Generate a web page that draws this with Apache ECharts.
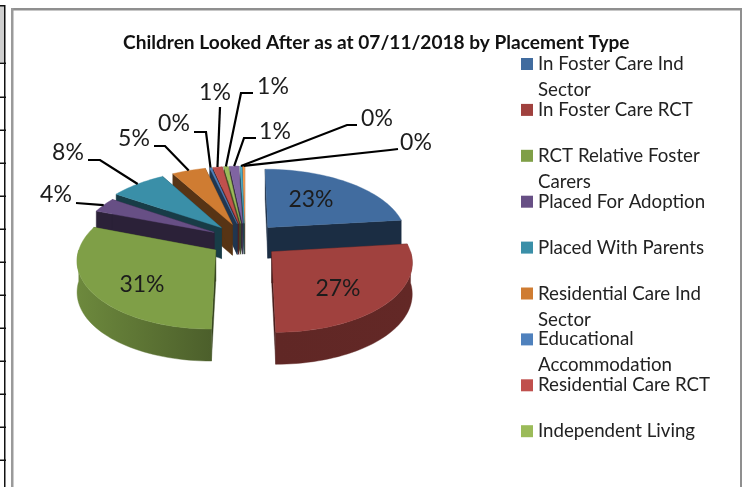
<!DOCTYPE html>
<html>
<head>
<meta charset="utf-8">
<style>html,body{margin:0;padding:0;background:#fff}#c{width:743px;height:487px}</style>
<script src="https://cdn.jsdelivr.net/npm/echarts@6/dist/echarts.min.js"></script>
</head>
<body>
<div id="c"></div>
<script>
const titleText = 'Children Looked After as at 07/11/2018 by Placement Type';
const categories = ['In Foster Care Ind Sector','In Foster Care RCT','RCT Relative Foster Carers','Placed For Adoption','Placed With Parents','Residential Care Ind Sector','Educational Accommodation','Residential Care RCT','Independent Living','Semi Independent Living','Secure Accommodation','Other Placements'];
const values = [23.2,26.8,30.6,3.6,7.5,4.5,0.25,1.25,0.55,1.2,0.25,0.3];
const colors = ['#416C9F','#A0413E','#7F9F47','#674F85','#3A8FA8','#CF7C32','#4F81BD','#C0504D','#9BBB59','#8064A2','#4BACC6','#F79646'];
const legendNames = categories.slice(0,9);
const legendWraps = {'In Foster Care Ind Sector':'In Foster Care Ind\nSector','RCT Relative Foster Carers':'RCT Relative Foster\nCarers','Residential Care Ind Sector':'Residential Care Ind\nSector','Educational Accommodation':'Educational\nAccommodation'};
const paintOrder = [11,10,9,8,7,6,5,4,3,2,0,1];

// layout of the percentage labels: centre, optional leader start and knee
const labelSpots = [[311,200],[338,289],[142,285],[56,195],[68,153],[134,139],[174,124],[215,93],[273,87],[275,132],[377,119],[416,143]];
const leaderPaths = [null,null,null,[[76,203]],[[88,160],[100,160]],[[154,146],[165,146]],[[194,132],[206,132]],[[220,107]],[[253,93],[241,93]],[[256,138],[244,138]],[[357,125],[347,125]],[[398,149],[390,150]]];
const radiusBy = [1,0.97,0.96,0.96,1,1,1,1,1,1,1,1];

// projection of the exploded 3D pie
const P = {cx:245, cy:240, A:69, B:140, k:0.132, explode:0.25, depth:31};
const total = values.reduce((a,b)=>a+b,0);
const DEG = Math.PI/180;
function project(X,Y,low){
  const d = 1+P.k*Y;
  return [P.cx+P.B*X/d, P.cy-P.A*Y/d+(low?P.depth/Math.pow(d,0.2):0)];
}
let running = 0;
const slices = values.map((v,i)=>{
  const a0 = running/total*360; running += v; const a1 = running/total*360;
  const m = (a0+a1)/2*DEG;
  return {a0,a1,ax:P.explode*Math.sin(m),ay:P.explode*Math.cos(m),mid:(a0+a1)/2,r:radiusBy[i]};
});
function rim(s,deg,low){return project(s.ax+s.r*Math.sin(deg*DEG),s.ay+s.r*Math.cos(deg*DEG),low);}
function apex(s,low){return project(s.ax,s.ay,low);}
function arcPts(s,from,to,low){const n=Math.max(2,Math.ceil((to-from)/2));const o=[];for(let i=0;i<=n;i++)o.push(rim(s,from+(to-from)*i/n,low));return o;}
function scale(hex,f){const n=parseInt(hex.slice(1),16);const c=[(n>>16)&255,(n>>8)&255,n&255].map(x=>Math.round(x*f));return `rgb(${c.join(',')})`;}
function shade(deg){return deg<=179.9?0.40+(180-deg)/90*0.22:0.60+(deg-180)/90*0.26;}

function render(idx){
  const s = slices[idx], col = colors[idx], kids = [];
  const poly=(pts,fill)=>kids.push({type:'polygon',shape:{points:pts},style:{fill,stroke:fill,lineWidth:0.4},silent:true});
  [s.a0,s.a1].forEach(a=>poly([apex(s,false),rim(s,a,false),rim(s,a,true),apex(s,true)],scale(col,0.42)));
  const from=Math.max(s.a0,90), to=Math.min(s.a1,270);
  if(to>from){
    const up=arcPts(s,from,to,false), low=arcPts(s,from,to,true);
    const x0=Math.min(...up.map(p=>p[0])), x1=Math.max(...up.map(p=>p[0]));
    const leftDeg=up[0][0]<up[up.length-1][0]?from:to, rightDeg=leftDeg===from?to:from;
    poly(up.concat(low.reverse()),new echarts.graphic.LinearGradient(x0,0,x1,0,[{offset:0,color:scale(col,shade(leftDeg))},{offset:1,color:scale(col,shade(rightDeg))}],true));
  }
  poly([apex(s,false)].concat(arcPts(s,s.a0,s.a1,false)),col);
  const path=leaderPaths[idx];
  if(path){
    kids.push({type:'polyline',z2:50,shape:{points:path.concat([rim(s,s.mid,false)])},style:{stroke:'#000',lineWidth:2.2,fill:null},silent:true});
  }
  kids.push({type:'text',z2:60,silent:true,x:labelSpots[idx][0],y:labelSpots[idx][1],style:{text:Math.round(values[idx]/total*100)+'%',font:'23px Lato',fill:'#1c1c1c',align:'center',verticalAlign:'middle'}});
  return {type:'group',children:kids};
}

const chrome=[
 {type:'rect',shape:{x:0,y:6,width:4,height:56},style:{fill:'#cfcfcf'}},
 {type:'rect',shape:{x:4,y:5,width:1.5,height:482},style:{fill:'#111'}},
 {type:'rect',shape:{x:0,y:5,width:5,height:1.5},style:{fill:'#111'}},
 {type:'rect',shape:{x:11,y:8,width:731,height:2.5},style:{fill:'#8f8f8f'}},
 {type:'rect',shape:{x:11,y:8,width:2.5,height:479},style:{fill:'#9a9a9a'}},
 {type:'rect',shape:{x:740,y:8,width:2,height:479},style:{fill:'#8f8f8f'}}
];
[63,97,130,163,196,229,262,295,328,361,394,427,460].forEach(y=>chrome.push({type:'rect',shape:{x:0,y:y-0.5,width:6,height:1.5},style:{fill:'#111'}}));

const chart=echarts.init(document.getElementById('c'),null,{renderer:'canvas'});
chart.setOption({
 backgroundColor:'#fff',animation:false,
 title:{text:titleText,left:123,top:33,padding:0,textStyle:{fontFamily:'Lato',fontWeight:'bold',fontSize:19.1,color:'#111'}},
 legend:{show:true,orient:'vertical',left:521,top:25,padding:0,itemWidth:12,itemHeight:12,itemGap:-32.1,selectedMode:false,icon:'rect',
  data:legendNames,
  formatter:n=>{const w=legendWraps[n];return w?' \n'+w:' \n'+n+'\n ';},
  textStyle:{fontFamily:'Lato',fontSize:18.7,lineHeight:26,color:'#222'}},
 graphic:chrome.map(e=>Object.assign({silent:true},e)),
 series:paintOrder.map(i=>({
  type:'custom',name:categories[i],coordinateSystem:'none',silent:true,
  itemStyle:{color:colors[i]},
  data:[values[i]],
  renderItem:()=>render(i)
 }))
});
</script>
</body>
</html>
